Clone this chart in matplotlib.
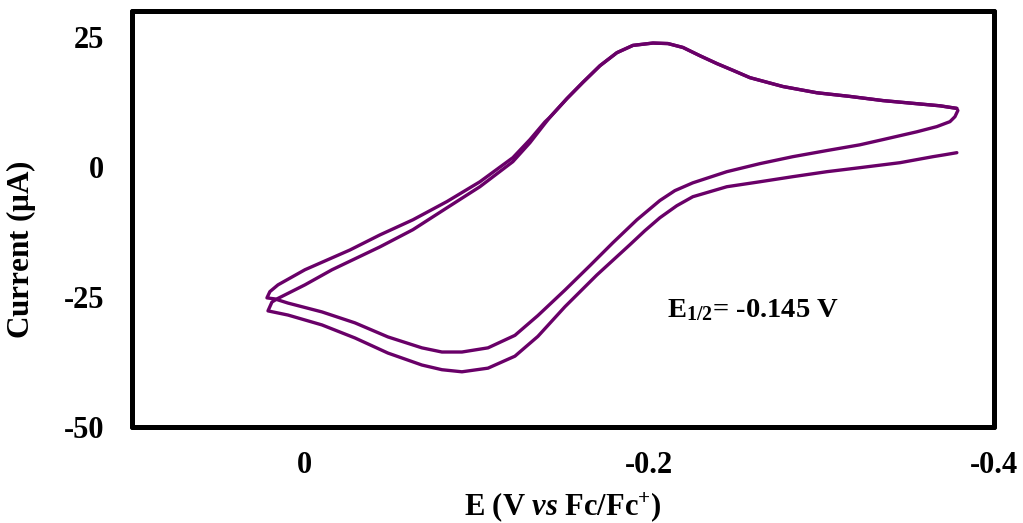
import matplotlib
matplotlib.use('Agg')
import matplotlib.pyplot as plt

plt.rcParams['font.family'] = 'Liberation Serif'
plt.rcParams['font.weight'] = 'bold'
plt.rcParams['mathtext.fontset'] = 'custom'
plt.rcParams['mathtext.rm'] = 'Liberation Serif:bold'
plt.rcParams['mathtext.it'] = 'Liberation Serif:bold:italic'
plt.rcParams['mathtext.bf'] = 'Liberation Serif:bold'

# shared forward sweep near the peak (both cycles run on top of each other here)
peak_E = [-0.1424, -0.1523, -0.1615, -0.1714, -0.1812, -0.1905, -0.2021, -0.2108,
          -0.2195, -0.2294, -0.2392, -0.2485, -0.2583, -0.2774, -0.2971, -0.3162,
          -0.3353, -0.3550, -0.3683, -0.3782]
peak_I = [9.5, 13.1, 16.2, 19.4, 21.9, 23.3, 23.75, 23.65,
          22.9, 21.3, 19.8, 18.5, 17.1, 15.4, 14.2, 13.5,
          12.7, 12.1, 11.7, 11.2]

# cycle 1: back sweep (outer lower), then forward (inner upper)
cycle1_E = [-0.3782, -0.3713, -0.3643, -0.3453, -0.3220, -0.3029, -0.2831, -0.2640,
            -0.2449, -0.2252, -0.2159, -0.2061, -0.1974, -0.1887, -0.1696, -0.1511,
            -0.1354, -0.1221, -0.1065, -0.0914, -0.0798, -0.0682, -0.0485, -0.0294,
            -0.0103, 0.0094, 0.0210, 0.0187,
            0.0158, -0.0004, -0.0161, -0.0439, -0.0630, -0.0827, -0.1018, -0.1209,
            -0.1308, -0.1395] + peak_E
cycle1_I = [2.69, 2.3, 1.92, 0.77, -0.19, -0.96, -1.92, -2.9,
            -3.85, -5.77, -7.5, -9.81, -12.3, -15.0, -20.8, -26.9,
            -32.6, -36.4, -38.7, -39.4, -39.0, -38.1, -35.8, -32.9,
            -30.4, -28.5, -27.7, -26.0,
            -25.4, -22.7, -19.8, -15.4, -12.1, -7.9, -3.85, 0.96,
            4.6, 8.3] + peak_I

# cycle 2: back sweep (inner lower), then forward (outer upper)
cycle2_E = [-0.3788, -0.3771, -0.3742, -0.3666, -0.3550, -0.3353, -0.3220, -0.3029,
            -0.2831, -0.2640, -0.2449, -0.2252, -0.2148, -0.2061, -0.1928, -0.1789,
            -0.1656, -0.1511, -0.1354, -0.1221, -0.1065, -0.0914, -0.0798, -0.0682,
            -0.0485, -0.0294, -0.0103, 0.0094, 0.0170, 0.0216,
            0.0199, 0.0152, -0.0004, -0.0265, -0.0439, -0.0630, -0.0827, -0.1018,
            -0.1209, -0.1308, -0.1395] + peak_E
cycle2_I = [10.8, 9.6, 8.65, 7.7, 6.7, 5.2, 4.2, 3.1,
            1.92, 0.58, -0.96, -3.1, -4.6, -6.5, -10.2, -14.6,
            -19.0, -23.7, -28.6, -32.4, -34.8, -35.6, -35.6, -34.8,
            -32.7, -30.0, -27.9, -26.2, -25.4, -25.2,
            -24.0, -22.7, -19.8, -16.0, -13.1, -10.2, -6.7, -2.9,
            1.73, 5.2, 8.6] + peak_I

x_ticks = [0, -0.2, -0.4]
x_tick_labels = ['0', '-0.2', '-0.4']
y_ticks = [-50, -25, 0, 25]
y_tick_labels = ['-50', '-25', '0', '25']

line_color = '#690068'

fig = plt.figure(figsize=(10.23, 5.23), dpi=100)
ax = fig.add_axes([0.1287, 0.1836, 0.8434, 0.7963])

for E, I in [(cycle1_E, cycle1_I), (cycle2_E, cycle2_I)]:
    ax.plot(E, I, color=line_color, lw=2.4, solid_joinstyle='round', solid_capstyle='round')

ax.set_xlim(0.1, -0.4)
ax.set_ylim(-50, 30)
ax.set_xticks(x_ticks)
ax.set_xticklabels(x_tick_labels)
ax.set_yticks(y_ticks)
ax.set_yticklabels(y_tick_labels)
ax.tick_params(length=0, labelsize=22)
ax.tick_params(axis='x', pad=17)
ax.tick_params(axis='y', pad=20)

for sp in ax.spines.values():
    sp.set_linewidth(3.6)
    sp.set_color('black')
    sp.set_capstyle('round')

ax.set_xlabel(r'E (V $\mathit{vs}$ Fc/Fc$^{+}$)', fontsize=22, fontweight='bold', labelpad=8)
ax.set_ylabel(r'Current ($\mathrm{\mu}$A)', fontsize=22.5, fontweight='bold')
ax.yaxis.set_label_coords(-0.108, 0.425)

ax.text(-0.2102, -27.5, r'E$_{\mathrm{1/2}}$= -0.145 V', fontsize=20.5, fontweight='bold',
        ha='left', va='center')

fig.savefig('out.png', dpi=100)
